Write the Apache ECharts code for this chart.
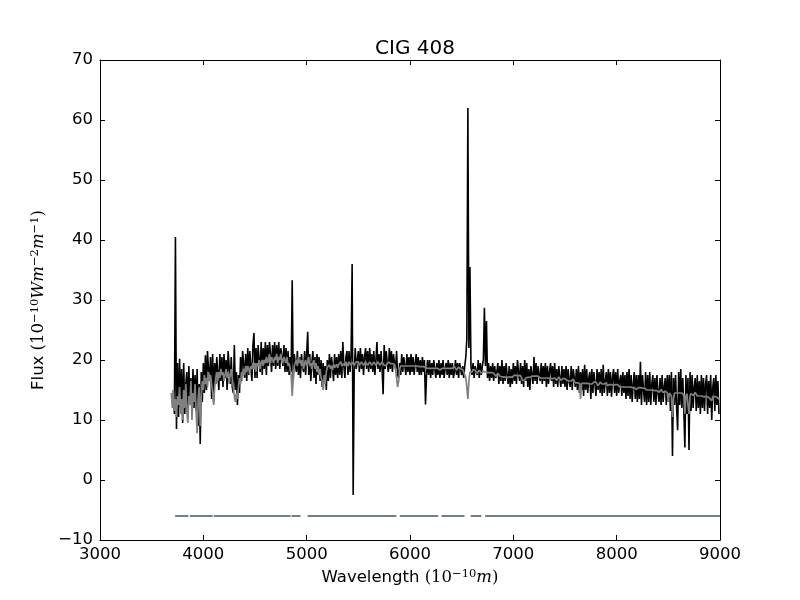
<!DOCTYPE html>
<html><head><meta charset="utf-8">
<script src="https://cdn.jsdelivr.net/npm/echarts@6/dist/echarts.min.js"></script>
<style>html,body{margin:0;padding:0;background:#fff}#c{width:800px;height:600px}</style>
</head><body><div id="c"></div>
<script>
const titleText = 'CIG 408';
const xTicks = [3000, 4000, 5000, 6000, 7000, 8000, 9000];
const yTicks = [-10, 0, 10, 20, 30, 40, 50, 60, 70];

// observed spectrum (black), sampled every 10 Å from 3710 Å
const observedStart = 3710, observedStep = 10;
const observedFlux = [
15.0,11.0,40.5,8.5,19.5,10.5,20.2,12.0,18.5,9.5,       // 3710
19.5,11.0,16.0,18.0,10.5,19.0,12.5,17.0,11.0,18.5,     // 3810
12.0,17.5,11.5,18.5,9.0,16.0,6.0,18.0,13.0,19.5,       // 3910
14.5,20.8,15.0,21.5,18.5,16.5,20.5,13.5,21.0,13.0,     // 4010
19.5,16.0,20.5,18.0,15.0,21.0,16.5,20.5,15.5,21.0,     // 4110
17.0,20.0,15.0,21.5,19.0,16.0,20.5,15.5,14.5,22.5,     // 4210
15.0,18.0,12.5,17.5,14.5,20.5,16.5,21.5,19.5,17.0,     // 4310
21.0,16.5,22.0,17.5,21.5,19.0,16.5,22.5,24.5,17.0,     // 4410
22.0,17.0,22.5,20.0,18.0,23.0,17.5,22.0,18.5,23.0,     // 4510
17.5,22.5,19.0,23.0,21.0,18.0,22.5,19.0,23.0,18.5,     // 4610
22.5,19.0,23.0,18.5,22.0,20.5,19.0,22.5,18.0,22.0,     // 4710
18.0,21.5,17.5,20.5,18.0,33.3,16.5,21.0,19.5,18.0,     // 4810
21.5,17.5,20.5,17.0,21.0,19.0,18.0,21.5,17.5,21.0,     // 4910
24.7,17.5,21.0,16.5,19.5,21.5,17.0,20.5,16.0,21.0,     // 5010
17.5,20.5,16.5,20.0,15.5,19.5,16.0,19.0,15.0,20.0,     // 5110
16.5,21.0,17.0,20.5,19.0,16.5,21.0,17.5,20.5,17.0,     // 5210
21.0,17.5,21.5,17.0,23.0,19.0,17.0,20.5,21.5,17.5,     // 5310
21.5,18.0,21.0,36.0,-2.5,18.0,22.0,18.5,20.0,21.5,     // 5410
18.0,22.0,18.5,21.0,17.5,20.5,22.0,18.5,21.5,18.0,     // 5510
22.0,18.5,21.0,18.0,21.5,17.5,20.0,23.0,18.5,21.0,     // 5610
18.0,21.5,18.5,14.3,22.5,18.5,21.5,19.5,18.0,22.0,     // 5710
18.5,21.5,18.0,21.0,19.5,18.5,21.5,17.5,17.0,19.5,     // 5810
17.5,21.0,18.0,20.5,19.0,17.5,21.0,18.0,20.5,17.5,     // 5910
21.0,18.0,20.5,17.5,19.5,21.0,18.0,20.5,17.5,20.0,     // 6010
17.5,20.5,18.0,20.0,12.6,17.5,20.0,17.5,20.0,17.0,     // 6110
19.5,17.5,20.0,18.5,17.0,19.5,17.5,20.0,17.0,19.5,     // 6210
17.5,20.0,17.0,18.5,19.5,17.5,20.0,17.0,19.5,17.5,     // 6310
19.5,17.0,18.0,20.0,17.5,19.5,17.0,19.5,18.5,17.5,     // 6410
19.0,17.0,19.0,20.5,23.5,62.0,22.0,35.5,19.0,17.5,     // 6510
19.5,17.0,19.0,18.0,17.5,20.0,17.0,19.5,17.5,19.0,     // 6610
20.0,28.7,19.0,26.5,17.0,19.5,16.5,19.0,17.0,19.5,     // 6710
16.5,19.0,17.0,18.0,19.5,16.0,19.0,16.5,20.0,16.0,     // 6810
19.0,16.5,19.5,17.5,16.0,19.0,15.5,18.5,16.0,19.5,     // 6910
16.5,19.0,16.0,20.0,18.0,16.5,19.5,16.0,19.0,15.5,     // 7010
20.0,16.5,19.5,15.5,18.5,15.0,19.0,17.5,16.0,20.5,     // 7110
16.5,19.5,16.0,19.0,17.5,16.5,19.5,16.0,19.0,16.5,     // 7210
19.5,15.5,19.0,16.0,18.0,19.5,16.5,19.0,15.5,19.5,     // 7310
16.0,18.5,15.5,19.0,17.0,15.5,19.0,16.0,18.5,15.5,     // 7410
19.0,15.0,18.5,16.5,15.5,19.0,15.0,18.5,17.0,15.5,     // 7510
18.5,15.0,19.0,14.5,18.0,15.0,18.5,14.0,19.2,15.0,     // 7610
18.5,14.5,17.0,18.0,13.5,18.5,14.5,18.0,16.0,14.0,     // 7710
18.5,15.0,18.0,14.5,18.5,14.0,19.2,14.5,16.5,18.0,     // 7810
14.0,18.5,14.5,18.0,13.9,17.0,18.5,14.5,18.0,14.0,     // 7910
18.5,14.5,16.5,17.5,14.0,18.0,14.5,17.5,13.5,18.0,     // 8010
14.0,18.5,13.5,17.5,13.0,16.0,18.0,13.5,17.5,13.0,     // 8110
17.5,13.5,19.7,12.5,17.5,15.0,13.0,18.0,12.5,17.5,     // 8210
13.0,18.0,12.5,16.0,17.5,13.0,17.0,12.5,17.5,14.5,     // 8310
13.0,17.0,12.5,17.5,13.0,15.5,17.0,12.5,17.5,13.0,     // 8410
17.5,11.5,18.0,4.0,17.0,12.5,17.5,12.0,8.3,18.0,       // 8510
12.5,18.5,12.0,17.0,11.5,5.4,17.5,11.0,17.0,5.0,       // 8610
18.0,11.5,17.5,12.0,15.5,17.0,11.5,17.5,12.0,16.5,     // 8710
11.0,17.5,12.0,17.0,11.5,16.0,17.5,11.0,16.5,12.0,     // 8810
17.5,10.0,15.5,17.0,11.5,17.5,12.5,16.5,11.0           // 8910
];

// model spectrum (grey), sampled every 10 Å from 3690 Å
const modelStart = 3690, modelStep = 10;
const modelFlux = [
14.5,12.0,15.0,11.5,13.5,10.5,14.0,12.5,15.5,11.0,     // 3690
13.5,10.0,15.0,12.0,16.0,11.5,9.5,14.0,12.5,16.5,      // 3790
10.0,14.5,13.0,16.0,11.5,7.8,13.5,15.5,9.0,14.0,       // 3890
16.5,15.0,17.5,16.0,17.0,15.5,18.0,16.5,17.5,16.0,     // 3990
14.5,12.5,15.5,17.0,18.0,16.5,18.0,17.0,18.5,17.5,     // 4090
18.0,16.5,17.5,18.5,17.0,18.0,16.0,17.5,18.5,17.0,     // 4190
15.5,14.0,13.0,14.5,13.5,15.5,17.0,16.0,18.0,17.5,     // 4290
18.5,17.5,19.0,18.0,19.0,18.5,17.5,19.0,18.5,19.5,     // 4390
18.5,19.5,18.0,19.5,19.0,20.0,18.5,19.5,20.0,19.0,     // 4490
20.0,19.5,20.5,19.5,20.0,21.0,19.5,20.5,20.0,19.5,     // 4590
20.5,20.0,21.0,19.5,20.5,20.0,21.0,20.0,19.5,20.5,     // 4690
20.0,19.5,20.5,19.0,19.5,18.5,17.5,14.0,17.0,19.0,     // 4790
19.5,20.0,19.0,20.5,19.5,20.0,19.0,20.0,18.5,19.5,     // 4890
20.0,19.0,19.5,20.5,19.0,19.5,18.5,19.5,20.0,18.5,     // 4990
19.5,18.0,19.0,17.5,18.5,17.0,16.5,15.0,17.5,16.0,     // 5090
18.0,18.8,18.5,19.2,18.6,19.0,18.3,19.3,18.7,19.0,     // 5190
19.3,18.7,19.3,19.0,19.7,19.0,18.7,19.4,19.0,19.7,     // 5290
19.4,19.0,19.7,19.4,19.1,19.4,19.7,19.1,19.4,19.7,     // 5390
19.4,19.7,19.1,19.4,19.7,19.4,19.1,19.4,19.7,19.4,     // 5490
19.1,19.4,19.7,19.4,19.1,19.4,19.7,19.4,19.1,19.4,     // 5590
19.7,19.4,19.1,19.4,19.7,19.4,19.1,19.4,19.1,19.4,     // 5690
19.7,19.4,19.4,19.7,19.4,19.1,19.3,18.5,17.0,15.5,     // 5790
16.5,18.5,19.0,19.3,19.0,19.3,19.0,19.3,19.0,19.3,     // 5890
19.0,19.3,19.0,18.7,19.0,19.3,19.0,18.7,19.0,19.2,     // 5990
18.9,18.6,18.9,18.6,18.9,19.2,18.7,18.9,18.6,18.9,     // 6090
18.6,18.9,18.6,18.3,18.6,18.9,18.6,18.3,18.6,18.6,     // 6190
18.3,18.6,18.6,18.9,18.6,18.3,18.6,18.9,18.6,18.3,     // 6290
18.6,18.9,18.6,18.6,18.9,18.6,18.3,18.6,18.8,18.5,     // 6390
18.5,18.2,18.4,18.0,17.5,17.0,15.5,13.5,16.5,18.0,     // 6490
18.3,18.0,18.4,18.1,18.3,18.0,17.8,18.1,18.3,18.0,     // 6590
17.8,18.0,18.1,17.8,18.0,18.2,17.9,17.7,17.9,17.6,     // 6690
17.9,17.6,17.8,17.5,17.3,17.5,17.8,17.5,17.3,17.5,     // 6790
17.2,17.5,17.2,17.4,17.1,16.8,17.1,17.4,17.2,17.4,     // 6890
17.1,17.4,17.5,17.2,17.4,17.1,17.4,17.7,17.4,17.0,     // 6990
16.6,16.3,16.6,17.0,17.3,17.1,17.4,17.1,17.3,17.3,     // 7090
17.0,17.3,17.1,17.3,17.0,17.3,17.3,17.0,17.3,17.0,     // 7190
17.3,17.0,17.2,17.0,17.3,17.0,17.2,16.9,16.6,16.9,     // 7290
17.2,17.0,16.9,16.6,16.9,17.2,16.9,16.6,16.9,16.9,     // 7390
16.6,16.9,16.9,16.6,16.8,16.5,16.8,16.5,16.5,16.8,     // 7490
16.5,16.2,16.5,16.2,16.4,16.1,13.5,16.1,16.4,16.1,     // 7590
16.4,16.1,16.4,16.1,16.3,16.0,16.3,16.0,16.0,16.3,     // 7690
16.0,16.3,16.0,15.7,16.0,16.3,16.0,16.0,15.7,16.0,     // 7790
15.9,16.2,15.7,15.9,15.9,15.6,15.9,16.1,15.8,15.6,     // 7890
15.9,15.6,15.9,15.8,15.5,15.8,15.5,15.8,15.5,15.8,     // 7990
15.5,15.8,15.5,15.2,15.5,15.7,15.4,15.1,15.4,15.4,     // 8090
15.1,15.4,15.4,15.1,15.4,15.1,15.3,15.0,15.3,15.0,     // 8190
15.0,15.3,15.0,15.3,15.0,14.7,15.0,15.2,14.9,14.7,     // 8290
14.9,14.9,14.6,14.9,15.1,14.8,14.6,14.9,14.8,14.5,     // 8390
14.5,13.0,14.5,14.8,14.0,10.5,13.5,14.5,14.8,14.5,     // 8490
14.8,14.5,14.8,14.5,14.7,14.4,14.0,11.0,14.0,14.4,     // 8590
12.5,11.0,14.0,14.4,14.5,14.1,14.4,14.6,14.3,14.0,     // 8690
14.3,14.0,14.3,14.0,14.2,13.9,13.6,13.9,14.2,13.9,     // 8790
13.9,13.6,13.9,13.2,13.9,13.6,13.9,13.6,13.8,13.5,     // 8890
13.5                                                    // 8990
];

// masked (fitted) wavelength ranges, drawn as segments at a fixed level
const maskStart = [3727, 3870, 4102, 4855, 5009, 5901, 6305, 6587, 6727];
const maskEnd   = [3855, 4091, 4845, 4941, 5869, 6273, 6527, 6690, 9000];
const maskLevel = -6;

const observed = observedFlux.map((v, i) => [observedStart + i * observedStep, v]);
const model = modelFlux.map((v, i) => [modelStart + i * modelStep, v]);

const mathFont = 'DejaVu Serif';
const labelFont = 16.5;
const chart = echarts.init(document.getElementById('c'), null, {renderer: 'canvas'});
const fmt = v => String(v).replace('-', '\u2212');

const baseX = {
  type: 'value', min: xTicks[0], max: xTicks[xTicks.length - 1], interval: 1000,
  axisLine: {show: true, onZero: false, lineStyle: {color: '#000', width: 1}},
  axisTick: {show: true, inside: true, length: 5, lineStyle: {color: '#000'}},
  splitLine: {show: false}
};
const baseY = {
  type: 'value', min: yTicks[0], max: yTicks[yTicks.length - 1], interval: 10,
  axisLine: {show: true, onZero: false, lineStyle: {color: '#000', width: 1}},
  axisTick: {show: true, inside: true, length: 5, lineStyle: {color: '#000'}},
  splitLine: {show: false}
};
const nameRich = {
  t: {fontFamily: 'DejaVu Sans', fontSize: labelFont, color: '#000'},
  m: {fontFamily: mathFont, fontSize: labelFont, color: '#000'},
  i: {fontFamily: mathFont, fontSize: labelFont, fontStyle: 'italic', color: '#000'},
  s: {fontFamily: mathFont, fontSize: 11.5, color: '#000', padding: [0, 0, 8, 0]}
};

const maskSeries = maskStart.map((s, i) => ({
  type: 'line', name: 'mask' + i, xAxisIndex: 0, yAxisIndex: 0,
  data: [[s, maskLevel], [maskEnd[i], maskLevel]],
  showSymbol: false, silent: true, animation: false,
  lineStyle: {color: '#708090', width: 2}, z: 1
}));

chart.setOption({
  backgroundColor: '#fff',
  animation: false,
  title: {
    text: titleText, left: 410, top: 34, textAlign: 'center',
    textStyle: {fontFamily: 'DejaVu Sans', fontSize: 20, fontWeight: 'normal', color: '#000'}
  },
  grid: {left: 100, right: 80, top: 60, bottom: 60, containLabel: false},
  xAxis: [
    Object.assign({}, baseX, {
      position: 'bottom',
      axisLabel: {color: '#000', fontSize: labelFont, fontFamily: 'DejaVu Sans', margin: 6, formatter: fmt},
      name: '{t|Wavelength }{m|(10}{s|\u221210}{i|m}{m|)}',
      nameLocation: 'middle', nameGap: 25,
      nameTextStyle: {rich: nameRich}
    }),
    Object.assign({}, baseX, {position: 'top', axisLabel: {show: false}})
  ],
  yAxis: [
    Object.assign({}, baseY, {
      position: 'left',
      axisLabel: {color: '#000', fontSize: labelFont, fontFamily: 'DejaVu Sans', margin: 7, formatter: fmt},
      name: '{t|Flux }{m|(10}{s|\u221210}{i|Wm}{s|\u22122}{i|m}{s|\u22121}{m|)}',
      nameLocation: 'middle', nameGap: 44, nameRotate: 90,
      nameTextStyle: {rich: nameRich}
    }),
    Object.assign({}, baseY, {position: 'right', axisLabel: {show: false}})
  ],
  series: [
    {
      type: 'line', name: 'observed', xAxisIndex: 0, yAxisIndex: 0,
      data: observed, showSymbol: false, silent: true, animation: false,
      lineStyle: {color: '#000', width: 1.6}, z: 2
    },
    {
      type: 'line', name: 'model', xAxisIndex: 0, yAxisIndex: 0,
      data: model, showSymbol: false, silent: true, animation: false,
      lineStyle: {color: '#808080', width: 1.7}, z: 3
    }
  ].concat(maskSeries)
});
</script>
</body></html>
